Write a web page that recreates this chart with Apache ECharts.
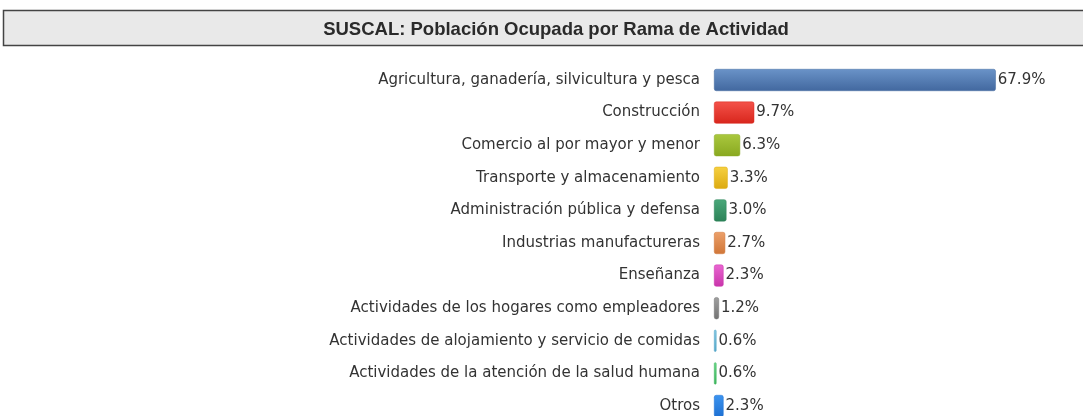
<!DOCTYPE html>
<html>
<head>
<meta charset="utf-8">
<script src="https://cdn.jsdelivr.net/npm/echarts@6/dist/echarts.min.js"></script>
<style>
  html, body { margin: 0; padding: 0; background: #fff; }
  #main { width: 1083px; height: 416px; }
</style>
</head>
<body>
<div id="main"></div>
<script>
// Rama de actividad
const ramas = [
  'Agricultura, ganadería, silvicultura y pesca',
  'Construcción',
  'Comercio al por mayor y menor',
  'Transporte y almacenamiento',
  'Administración pública y defensa',
  'Industrias manufactureras',
  'Enseñanza',
  'Actividades de los hogares como empleadores',
  'Actividades de alojamiento y servicio de comidas',
  'Actividades de la atención de la salud humana',
  'Otros'
];
const porcentajes = [67.9, 9.7, 6.3, 3.3, 3.0, 2.7, 2.3, 1.2, 0.6, 0.6, 2.3];
// colores de cada barra [claro, oscuro]
const colores = [
  ['#6a93c8', '#42689f'],
  ['#f4524a', '#d8261c'],
  ['#aac83e', '#89a820'],
  ['#f6d040', '#dcaa10'],
  ['#4aa87a', '#2c8258'],
  ['#eca06a', '#d07638'],
  ['#ea66d2', '#c834aa'],
  ['#a0a0a0', '#727272'],
  ['#86c8e2', '#54a6c8'],
  ['#6cd88a', '#3cb45c'],
  ['#3c94f0', '#1e70d2']
];

const chart = echarts.init(document.getElementById('main'));

const data = porcentajes.map(function (v, i) {
  return {
    value: v,
    itemStyle: {
      color: new echarts.graphic.LinearGradient(0, 0, 0, 1, [
        { offset: 0, color: colores[i][0] },
        { offset: 1, color: colores[i][1] }
      ]),
      borderColor: colores[i][1],
      borderWidth: 0.5,
      borderRadius: 2
    }
  };
});

chart.setOption({
  animation: false,
  graphic: [{
    type: 'rect',
    shape: { x: 3.5, y: 10.5, width: 1090, height: 35 },
    style: { fill: '#e9e9e9', stroke: '#444', lineWidth: 1.5 },
    z: -1
  }],
  title: {
    text: 'SUSCAL: Población Ocupada por Rama de Actividad',
    left: 551,
    textAlign: 'center',
    top: 15,
    textStyle: {
      fontFamily: 'Liberation Sans',
      fontSize: 18.5,
      fontWeight: 'bold',
      color: '#2a2a2a'
    }
  },
  grid: {
    left: 714,
    top: 80,
    width: 332,
    height: 326
  },
  xAxis: {
    type: 'value',
    min: 0,
    max: 80,
    show: false
  },
  yAxis: {
    type: 'category',
    inverse: true,
    boundaryGap: false,
    data: ramas,
    axisLine: { show: false },
    axisTick: { show: false },
    axisLabel: {
      margin: 14,
      fontFamily: 'DejaVu Sans',
      fontSize: 15,
      color: '#333'
    }
  },
  series: [{
    type: 'bar',
    data: data,
    barWidth: 22,
    label: {
      show: true,
      position: 'right',
      distance: 2,
      fontFamily: 'DejaVu Sans',
      fontSize: 15,
      color: '#333',
      formatter: function (p) { return p.value.toFixed(1) + '%'; }
    }
  }]
});
</script>
</body>
</html>
